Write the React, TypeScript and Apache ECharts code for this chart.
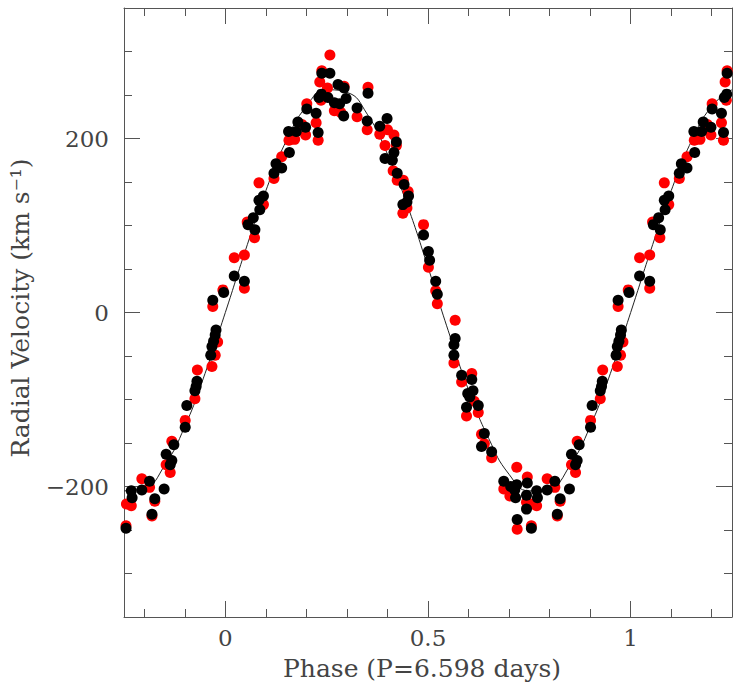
import React, { useEffect, useRef } from "react";
import * as echarts from "echarts";

// Black measurements (phase folded into [0,1))
const blackPhase = [
  0.022, 0.047, 0.056, 0.069, 0.073, 0.083, 0.085, 0.094, 0.12, 0.125, 0.139, 0.156, 0.158, 0.175, 0.179,
  0.198, 0.201, 0.224, 0.229, 0.231, 0.237, 0.238, 0.253, 0.258, 0.269, 0.278, 0.282, 0.292, 0.293, 0.298,
  0.325, 0.35, 0.352, 0.381, 0.394, 0.399, 0.412, 0.416, 0.422, 0.424, 0.438, 0.441, 0.448, 0.452, 0.489,
  0.501, 0.504, 0.519, 0.523, 0.564, 0.564, 0.567, 0.583, 0.595, 0.598, 0.603, 0.608, 0.611, 0.624, 0.632,
  0.639, 0.657, 0.687, 0.704, 0.714, 0.716, 0.719, 0.72, 0.743, 0.743, 0.745, 0.755, 0.768, 0.77, 0.794,
  0.813, 0.819, 0.826, 0.849, 0.854, 0.864, 0.868, 0.873, 0.901, 0.905, 0.925, 0.928, 0.93, 0.964, 0.967,
  0.969, 0.971, 0.975, 0.977, 0.996,
];
const blackVel = [
  42, 36, 101, 109, 95, 129, 118, 134, 160, 171, 166, 208, 184, 208, 219,
  213, 234, 229, 207, 247, 251, 275, 247, 275, 241, 262, 240, 226, 258, 246,
  235, 220, 252, 214, 177, 223, 175, 184, 196, 160, 124, 147, 127, 134, 89,
  70, 60, 36, 21, -37, -49, -30, -72, -109, -93, -97, -77, -90, -107, -154,
  -139, -160, -194, -200, -204, -213, -198, -238, -210, -226, -196, -248, -205, -213, -204,
  -194, -232, -214, -203, -163, -175, -170, -152, -132, -107, -90, -85, -79, -49, -39,
  14, -33, -26, -20, 23,
];

// Red measurements (phase folded into [0,1))
const redPhase = [
  0.022, 0.047, 0.047, 0.054, 0.072, 0.083, 0.094, 0.12, 0.139, 0.157, 0.171, 0.189, 0.198, 0.201, 0.224,
  0.229, 0.233, 0.236, 0.238, 0.252, 0.258, 0.269, 0.285, 0.293, 0.325, 0.35, 0.352, 0.381, 0.394, 0.4,
  0.414, 0.416, 0.422, 0.424, 0.438, 0.439, 0.448, 0.451, 0.489, 0.501, 0.519, 0.523, 0.564, 0.567, 0.583,
  0.595, 0.608, 0.614, 0.624, 0.632, 0.639, 0.657, 0.687, 0.702, 0.719, 0.72, 0.743, 0.745, 0.755, 0.756,
  0.768, 0.794, 0.813, 0.819, 0.826, 0.854, 0.864, 0.868, 0.901, 0.925, 0.931, 0.967, 0.969, 0.975, 0.981,
  0.994,
];
const redVel = [
  63, 66, 28, 104, 86, 149, 124, 154, 179, 198, 199, 216, 204, 240, 218,
  198, 265, 244, 278, 258, 296, 232, 230, 260, 225, 210, 259, 205, 192, 210,
  163, 204, 192, 152, 114, 152, 120, 139, 101, 52, 25, 10, -58, -9, -80,
  -119, -70, -102, -115, -140, -151, -167, -203, -211, -178, -249, -218, -189, -245, -220,
  -222, -191, -201, -234, -217, -175, -184, -148, -124, -99, -66, -62, 7, -49, -34,
  26,
];

// Model curve
const modelPhase = [
  -0.25, -0.2, -0.15, -0.1, -0.05, 0, 0.05, 0.1, 0.15, 0.2, 0.25, 0.3, 0.35, 0.4, 0.45, 0.5,
  0.55, 0.6, 0.65, 0.7, 0.75, 0.8, 0.85, 0.9, 0.95, 1, 1.05, 1.1, 1.15, 1.2, 1.25,
];
const modelVel = [
  -205, -202, -176, -131, -70, 0, 72, 140, 197, 237, 256, 253, 228, 182, 122, 52,
  -21, -89, -145, -186, -205, -202, -176, -131, -70, 0, 72, 140, 197, 237, 256,
];

const xMajorTicks = [0, 0.5, 1];
const xMinorTicks = [-0.2, -0.1, 0.1, 0.2, 0.3, 0.4, 0.6, 0.7, 0.8, 0.9, 1.1, 1.2];
const yMajorTicks = [-200, 0, 200];
const yMinorTicks = [-300, -250, -150, -100, -50, 50, 100, 150, 250, 300];

function fold(phases: number[], vels: number[]): number[][] {
  const out: number[][] = [];
  phases.forEach((p, i) => {
    const v = vels[i];
    out.push([p, v]);
    if (p >= 0.75) out.push([p - 1, v]);
    if (p <= 0.25) out.push([p + 1, v]);
  });
  return out;
}

const AX = "#555";
const FONT = "DejaVu Serif";

export default function App() {
  const ref = useRef<HTMLDivElement>(null);
  useEffect(() => {
    if (!ref.current) return;
    const chart = echarts.init(ref.current, undefined, { renderer: "svg" });
    const fmt = (v: number) => String(v).replace("-", "\u2212");
    const xBase = (position: string, ticks: number[], len: number, labels: boolean, line: boolean) => ({
      type: "value",
      position,
      min: -0.25,
      max: 1.25,
      axisLine: { show: line, onZero: false, lineStyle: { color: AX, width: 1 } },
      axisTick: { show: true, inside: true, length: len, customValues: ticks, lineStyle: { color: AX, width: 1 } },
      axisLabel: labels
        ? { show: true, customValues: ticks, formatter: fmt, color: "#444", fontFamily: FONT, fontSize: 23, margin: 9 }
        : { show: false },
      splitLine: { show: false },
    });
    const yBase = (position: string, ticks: number[], len: number, labels: boolean, line: boolean) => ({
      type: "value",
      position,
      min: -350,
      max: 350,
      axisLine: { show: line, onZero: false, lineStyle: { color: AX, width: 1 } },
      axisTick: { show: true, inside: true, length: len, customValues: ticks, lineStyle: { color: AX, width: 1 } },
      axisLabel: labels
        ? { show: true, customValues: ticks, formatter: fmt, color: "#444", fontFamily: FONT, fontSize: 23, margin: 15 }
        : { show: false },
      splitLine: { show: false },
    });
    chart.setOption({
      animation: false,
      grid: { left: 124, top: 8, width: 608, height: 609, containLabel: false },
      xAxis: [
        xBase("bottom", xMajorTicks, 16, true, true),
        xBase("bottom", xMinorTicks, 8, false, false),
        xBase("top", xMajorTicks, 16, false, true),
        xBase("top", xMinorTicks, 8, false, false),
      ],
      yAxis: [
        yBase("left", yMajorTicks, 16, true, true),
        yBase("left", yMinorTicks, 8, false, false),
        yBase("right", yMajorTicks, 16, false, true),
        yBase("right", yMinorTicks, 8, false, false),
      ],
      series: [
        {
          type: "line",
          data: modelPhase.map((p, i) => [p, modelVel[i]]),
          smooth: true,
          showSymbol: false,
          lineStyle: { color: "#222", width: 1 },
          z: 1,
          silent: true,
        },
        {
          type: "scatter",
          data: fold(redPhase, redVel),
          symbol: "circle",
          symbolSize: 11,
          itemStyle: { color: "#ff0000", opacity: 1 },
          z: 2,
        },
        {
          type: "scatter",
          data: fold(blackPhase, blackVel),
          symbol: "circle",
          symbolSize: 11,
          itemStyle: { color: "#000000", opacity: 1 },
          z: 3,
        },
      ],
      graphic: [
        {
          type: "text",
          x: 422,
          y: 668,
          style: {
            text: "Phase (P=6.598 days)",
            fill: "#444",
            font: `25px "${FONT}"`,
            textAlign: "center",
            textVerticalAlign: "middle",
          },
        },
        {
          type: "text",
          x: 20,
          y: 308,
          rotation: Math.PI / 2,
          style: {
            text: "Radial Velocity (km s\u207B\u00B9)",
            fill: "#444",
            font: `25px "${FONT}"`,
            textAlign: "center",
            textVerticalAlign: "middle",
          },
        },
      ],
    });
    return () => chart.dispose();
  }, []);
  return (
    <div
      ref={ref}
      style={{ position: "absolute", left: 0, top: 0, width: 743, height: 695, background: "#fff" }}
    />
  );
}
